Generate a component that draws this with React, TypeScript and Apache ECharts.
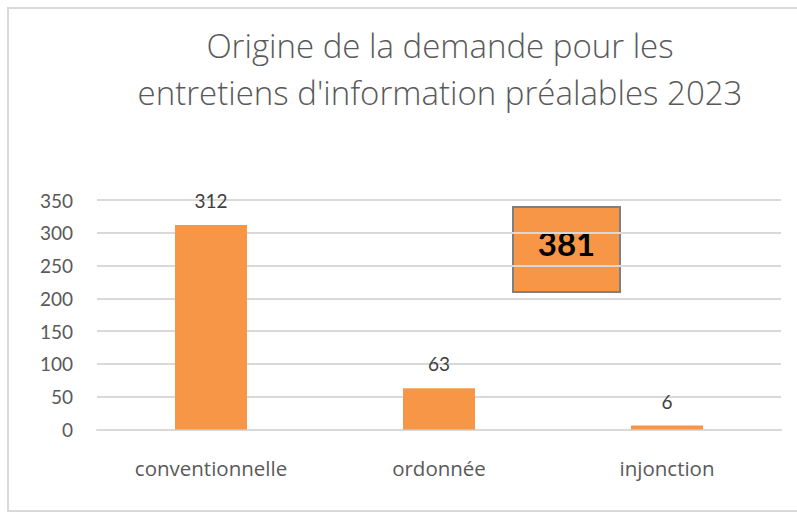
import React, { useEffect, useRef } from "react";
import * as echarts from "echarts";

const categories = ["conventionnelle", "ordonnée", "injonction"];
const values = [312, 63, 6];
const totalLabel = "381";
const titleLines = ["Origine de la demande pour les", "entretiens d'information préalables 2023"];

export default function App() {
  const ref = useRef<HTMLDivElement>(null);
  useEffect(() => {
    document.body.style.margin = "0";
    const chart = echarts.init(ref.current!, null, { renderer: "svg" });
    const font = "Lato, 'Open Sans', sans-serif";
    const font2 = "'Open Sans', Lato, sans-serif";
    chart.setOption({
      animation: false,
      backgroundColor: "#ffffff",
      grid: { left: 97, right: 16, top: 200, bottom: 83.5 },
      xAxis: {
        type: "category",
        data: categories,
        axisLine: { lineStyle: { color: "#d9d9d9", width: 2 } },
        axisTick: { show: false },
        axisLabel: { color: "#595959", fontSize: 20.5, fontFamily: font2, margin: 28 },
      },
      yAxis: {
        type: "value",
        min: 0,
        max: 350,
        interval: 50,
        axisLine: { show: false },
        axisTick: { show: false },
        splitLine: { lineStyle: { color: "#d9d9d9", width: 2 } },
        axisLabel: { color: "#595959", fontSize: 19, fontFamily: font, margin: 24 },
      },
      series: [
        {
          type: "bar",
          data: values,
          barWidth: 72,
          itemStyle: { color: "#F79646" },
          label: {
            show: true,
            position: "top",
            distance: 15,
            color: "#404040",
            fontSize: 19,
            fontFamily: font,
          },
        },
      ],
      graphic: [
        {
          type: "rect",
          shape: { x: 8, y: 8, width: 800, height: 503 },
          style: { fill: "none", stroke: "#d9d9d9", lineWidth: 2 },
          silent: true,
        },
        {
          type: "text",
          x: 440,
          y: 45,
          style: {
            text: titleLines[0],
            fill: "#595959",
            fontSize: 33,
            fontFamily: font2,
            fontWeight: 300,
            textAlign: "center",
            textVerticalAlign: "middle",
          },
        },
        {
          type: "text",
          x: 440,
          y: 92,
          style: {
            text: titleLines[1],
            fill: "#595959",
            fontSize: 33,
            fontFamily: font2,
            fontWeight: 300,
            textAlign: "center",
            textVerticalAlign: "middle",
          },
        },
        {
          type: "rect",
          shape: { x: 513, y: 207, width: 107, height: 85 },
          style: { fill: "#F79646", stroke: "#7f7f7f", lineWidth: 2 },
        },
        {
          type: "text",
          x: 566.5,
          y: 243,
          style: {
            text: totalLabel,
            fill: "#000000",
            fontSize: 33,
            fontWeight: "bold",
            fontFamily: font,
            textAlign: "center",
            textVerticalAlign: "middle",
          },
        },
      ],
    });
    return () => chart.dispose();
  }, []);
  return <div ref={ref} style={{ width: 797, height: 513 }} />;
}
